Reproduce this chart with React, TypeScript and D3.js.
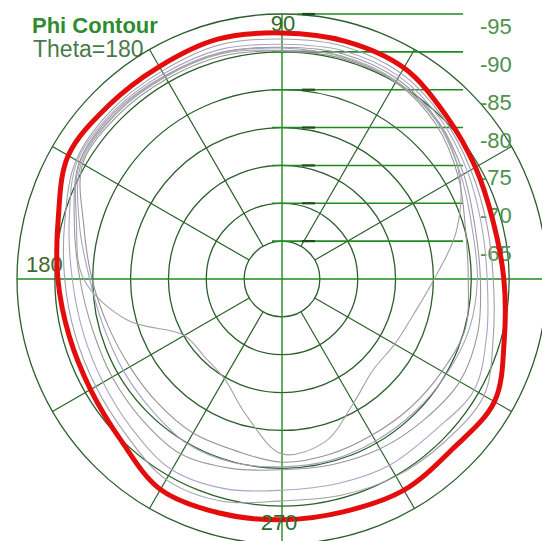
import React from 'react';
import * as d3 from 'd3';

// phi angles (deg, counter-clockwise from right)
const phiDeg = [0, 15, 30, 45, 60, 75, 90, 105, 120, 135, 150, 165, 180, 195, 210, 225, 240, 255, 270, 285, 300, 315, 330, 345];

// main contour (red)
const mainContour = [-89.3, -88.9, -89.5, -90.6, -92.2, -92.5, -92.5, -92.8, -92.4, -92.4, -92.6, -90.6, -89.6, -89.1, -89.2, -90.1, -92.1, -92.0, -91.8, -91.8, -92.2, -91.8, -92.4, -90.4];

// other theta cuts (grey)
const contourA = [-87.9, -88.0, -88.8, -90.1, -91.4, -91.8, -91.7, -92.0, -91.7, -91.7, -91.4, -89.7, -88.7, -88.3, -88.4, -89.1, -90.6, -90.4, -89.3, -89.6, -90.1, -90.4, -90.8, -88.9];
const contourB = [-87.1, -87.3, -88.3, -89.7, -90.9, -91.2, -91.0, -91.4, -91.3, -91.4, -91.2, -89.1, -87.7, -87.2, -87.3, -88.0, -89.1, -88.7, -87.9, -88.0, -88.4, -88.4, -89.3, -88.0];
const contourC = [-86.2, -86.4, -87.7, -89.3, -90.5, -90.8, -90.6, -91.0, -91.0, -91.2, -90.9, -88.4, -86.7, -85.9, -85.9, -86.2, -86.7, -85.9, -85.2, -85.4, -85.9, -86.4, -87.1, -86.8];
const contourD = [-85.8, -86.0, -87.3, -89.1, -90.2, -90.5, -90.2, -90.8, -90.8, -90.9, -90.6, -87.7, -85.4, -84.4, -84.2, -84.4, -85.1, -85.1, -84.8, -84.8, -84.7, -84.8, -85.1, -85.6];
const contourE = [-84.6, -85.1, -86.9, -88.8, -90.0, -90.2, -90.1, -90.5, -90.5, -90.6, -90.4, -87.1, -85.1, -83.8, -83.2, -83.2, -83.5, -83.5, -84.2, -84.0, -83.8, -84.0, -84.4, -85.1];
const contourF = [-80.1, -83.8, -87.1, -89.2, -90.1, -90.4, -90.5, -90.9, -90.9, -91.0, -90.8, -88.1, -86.2, -81.1, -74.9, -74.5, -75.2, -78.5, -83.1, -82.2, -78.9, -77.0, -77.2, -78.0];

const greyContours = [contourA, contourB, contourC, contourD, contourE, contourF];
const greyColors = ['#a0a0a8', '#aaa4c6', '#9a9a9a', '#a9a2c4', '#969696', '#a3a3a3'];

const ringLevels = [-65, -70, -75, -80, -85, -90, -95];
const spokeDeg = [30, 60, 120, 150, 210, 240, 300, 330];

const cx = 282;
const cy = 279;
const R = 265;

const gridDark = '#2a5f2a';
const gridBright = '#1f8a1f';

export default function App() {
  const rScale = d3.scaleLinear().domain([-60, -95]).range([0, R]);
  const toRad = (deg: number) => ((90 - deg) * Math.PI) / 180;

  const line = d3
    .lineRadial<{ phi: number; v: number }>()
    .angle(d => toRad(d.phi))
    .radius(d => rScale(d.v))
    .curve(d3.curveCatmullRomClosed.alpha(0.5));

  const toPts = (vals: number[]) => phiDeg.map((phi, i) => ({ phi, v: vals[i] }));

  const inner = rScale(ringLevels[0]);

  return (
    <svg width={542} height={541} style={{ position: 'absolute', left: 0, top: 0, background: '#fff' }}
      fontFamily="Arial, 'Liberation Sans', sans-serif">
      <text x={32} y={33} fontSize={22} fontWeight="bold" fill="#2e8b2e">Phi Contour</text>
      <text x={33} y={57} fontSize={23} fill="#4a7a4a">Theta=180</text>

      <g transform={`translate(${cx},${cy})`}>
        {ringLevels.map(v => (
          <circle key={v} r={rScale(v)} fill="none" stroke={gridDark} strokeWidth={1.3} />
        ))}
        {spokeDeg.map(a => {
          const [x1, y1] = d3.pointRadial(toRad(a), inner);
          const [x2, y2] = d3.pointRadial(toRad(a), R);
          return <line key={a} x1={x1} y1={y1} x2={x2} y2={y2} stroke={gridDark} strokeWidth={1.2} />;
        })}
        <line x1={-R} y1={0} x2={R} y2={0} stroke={gridBright} strokeWidth={1.4} />
        <line x1={0} y1={-R} x2={0} y2={R} stroke={gridBright} strokeWidth={1.4} />

        {ringLevels.map((v, i) => {
          const y = -rScale(v);
          const x0 = i === ringLevels.length - 1 ? 15 : -10;
          return (
            <g key={'lab' + v}>
              <line x1={x0} y1={y} x2={181} y2={y} stroke={gridBright} strokeWidth={1.6} />
              <line x1={20} y1={y} x2={33} y2={y} stroke="#1d4d1d" strokeWidth={2.2} />
              <text x={198} y={y + 20} fontSize={22} fill="#4d914d">{v}</text>
            </g>
          );
        })}

        <text x={-256} y={-7} fontSize={22} fill="#3d6b2d">180</text>

        {greyContours.map((c, i) => (
          <path key={i} d={line(toPts(c)) || ''} fill="none" stroke={greyColors[i]} strokeWidth={1.1} />
        ))}
        <path d={line(toPts(mainContour)) || ''} fill="none" stroke="#e30d0d" strokeWidth={5} />

        <text x={1} y={-248} fontSize={22} fill="#2e6a2e" textAnchor="middle">90</text>
        <text x={-3} y={251} fontSize={22} fill="#2e6a2e" textAnchor="middle">270</text>
      </g>
    </svg>
  );
}
